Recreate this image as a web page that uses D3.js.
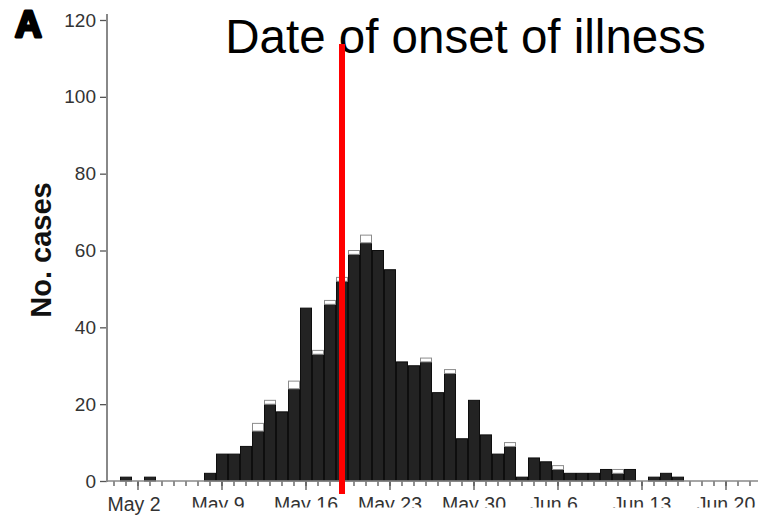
<!DOCTYPE html>
<html>
<head>
<meta charset="utf-8">
<script src="https://cdn.jsdelivr.net/npm/d3@7"></script>
<style>
  body { margin: 0; background: #fff; }
  svg { display: block; }
  text { font-family: "Liberation Sans", Arial, Helvetica, sans-serif; }
</style>
</head>
<body>
<svg id="chart" width="758" height="516"></svg>
<script>
// Daily case counts by date of onset of illness
const days = [
  "Apr 30",
  "May 1","May 2","May 3","May 4","May 5","May 6","May 7","May 8","May 9","May 10",
  "May 11","May 12","May 13","May 14","May 15","May 16","May 17","May 18","May 19","May 20",
  "May 21","May 22","May 23","May 24","May 25","May 26","May 27","May 28","May 29","May 30","May 31",
  "Jun 1","Jun 2","Jun 3","Jun 4","Jun 5","Jun 6","Jun 7","Jun 8","Jun 9","Jun 10",
  "Jun 11","Jun 12","Jun 13","Jun 14","Jun 15","Jun 16","Jun 17","Jun 18","Jun 19","Jun 20",
  "Jun 21","Jun 22"
];

// Lower (dark) segment of each daily bar
const casesDark = [
  0,
  1, 0, 1, 0, 0, 0, 0, 2, 7, 7,
  9, 13, 20, 18, 24, 45, 33, 46, 52, 59,
  62, 60, 55, 31, 30, 31, 23, 28, 11, 21, 12,
  7, 9, 1, 6, 5, 3, 2, 2, 2, 3,
  2, 3, 0, 1, 2, 1, 0, 0, 0, 0,
  0, 0
];

// Upper (open) segment stacked on top
const casesOpen = [
  0,
  0, 0, 0, 0, 0, 0, 0, 0, 0, 0,
  0, 2, 1, 0, 2, 0, 1, 1, 1, 1,
  2, 0, 0, 0, 0, 1, 0, 1, 0, 0, 0,
  0, 1, 0, 0, 0, 1, 0, 0, 0, 0,
  1, 0, 0, 0, 0, 0, 0, 0, 0, 0,
  0, 0
];

const tickLabels = ["May 2", "May 9", "May 16", "May 23", "May 30", "Jun 6", "Jun 13", "Jun 20"];
const yTicks = [0, 20, 40, 60, 80, 100, 120];
const markerDay = "May 19";

const svg = d3.select("#chart");

const x = d3.scaleBand().domain(days).range([108, 756]).padding(0);
const y = d3.scaleLinear().domain([0, 120]).range([481, 20]);

const rows = days.map((d, i) => ({ day: d, dark: casesDark[i], open: casesOpen[i] }));
const stacked = d3.stack().keys(["dark", "open"])(rows);

const segStyle = {
  dark: { fill: "#232323", stroke: "#0e0e0e" },
  open: { fill: "#ffffff", stroke: "#8c8c8c" }
};

// Stacked bars
svg.append("g").selectAll("g")
  .data(stacked)
  .join("g")
  .attr("fill", s => segStyle[s.key].fill)
  .attr("stroke", s => segStyle[s.key].stroke)
  .attr("stroke-width", 1)
  .selectAll("rect")
  .data(s => s.filter(p => p[1] - p[0] > 0))
  .join("rect")
  .attr("x", p => x(p.data.day) + 0.5)
  .attr("width", x.bandwidth() - 1)
  .attr("y", p => y(p[1]))
  .attr("height", p => y(p[0]) - y(p[1]));

// Y axis
const yAxis = svg.append("g")
  .attr("transform", "translate(107,0)")
  .call(d3.axisLeft(y).tickValues(yTicks).tickSize(7).tickPadding(4));
yAxis.select(".domain").remove();
yAxis.selectAll(".tick line").attr("stroke", "#555").attr("stroke-width", 1.3);
yAxis.selectAll(".tick text")
  .attr("font-size", 19).attr("fill", "#333")
  .style("font-family", "'Liberation Sans', Arial, sans-serif");
svg.append("line")
  .attr("x1", 107).attr("x2", 107)
  .attr("y1", 14).attr("y2", 482)
  .attr("stroke", "#888").attr("stroke-width", 2);

// X axis: a small tick per day, longer ticks with labels weekly
const xMinor = svg.append("g")
  .attr("transform", "translate(0,481)")
  .call(d3.axisBottom(x).tickValues(days).tickSize(5).tickFormat(""));
xMinor.select(".domain").remove();
xMinor.selectAll(".tick line").attr("stroke", "#555").attr("stroke-width", 1.3);

const xMajor = svg.append("g")
  .attr("transform", "translate(0,481)")
  .call(d3.axisBottom(x).tickValues(tickLabels).tickSize(9).tickPadding(7));
xMajor.select(".domain").remove();
xMajor.selectAll(".tick line").attr("stroke", "#555").attr("stroke-width", 1.3);
xMajor.selectAll(".tick text")
  .attr("font-size", 19.5).attr("fill", "#333")
  .attr("dx", d => (d.split(" ")[1].length === 1 ? -4 : 0))
  .style("font-family", "'Liberation Sans', Arial, sans-serif");

// Bottom edge of the panel trims the lower part of the later date labels
svg.append("rect")
  .attr("x", 168).attr("y", 507.5)
  .attr("width", 590).attr("height", 9)
  .attr("fill", "#fff");

svg.append("line")
  .attr("x1", 107).attr("x2", 758)
  .attr("y1", 481).attr("y2", 481)
  .attr("stroke", "#888").attr("stroke-width", 1.6);

// Panel letter
svg.append("text")
  .attr("x", 15).attr("y", 37)
  .attr("font-size", 37).attr("font-weight", "bold")
  .attr("fill", "#000").attr("stroke", "#000").attr("stroke-width", 3)
  .attr("stroke-linejoin", "round")
  .text("A");

// Y axis title
svg.append("text")
  .attr("transform", "translate(51,250) rotate(-90)")
  .attr("text-anchor", "middle")
  .attr("font-size", 29).attr("font-weight", "bold")
  .attr("fill", "#111")
  .text("No. cases");

// Chart title
svg.append("text")
  .attr("x", 465.5).attr("y", 53)
  .attr("text-anchor", "middle")
  .attr("font-size", 47.5)
  .attr("fill", "#000")
  .text("Date of onset of illness");

// Vertical marker line
const mx = x(markerDay) + x.bandwidth() / 2;
svg.append("line")
  .attr("x1", mx).attr("x2", mx)
  .attr("y1", 44).attr("y2", 494)
  .attr("stroke", "#ff0000").attr("stroke-width", 6);
</script>
</body>
</html>
